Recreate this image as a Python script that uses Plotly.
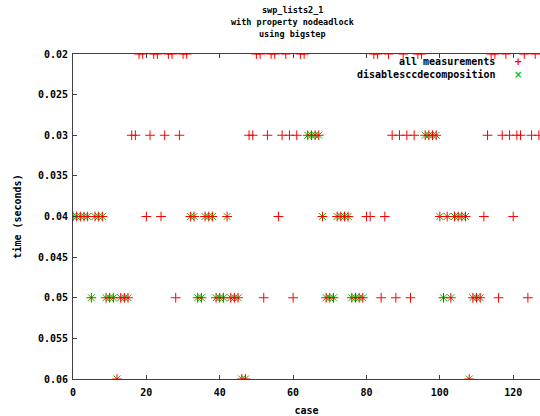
import plotly.graph_objects as go

# ---- data ----
cases = list(range(0, 128))

all_times = (
    [0.04] * 5 + [0.05] + [0.04] * 3 + [0.05] * 3 + [0.06] + [0.05] * 3      # 0-15
    + [0.03, 0.03, 0.02, 0.02, 0.04, 0.03, 0.02, 0.02]                           # 16-23
    + [0.04, 0.03, 0.02, 0.02, 0.05, 0.03, 0.02, 0.02]                           # 24-31
    + [0.04, 0.04, 0.05, 0.05, 0.04, 0.04, 0.04, 0.05, 0.05, 0.05, 0.04]         # 32-42
    + [0.05, 0.05, 0.05, 0.06, 0.06, 0.03, 0.03, 0.02, 0.02, 0.05, 0.03]         # 43-53
    + [0.02, 0.02, 0.04, 0.03, 0.02, 0.03, 0.05, 0.03, 0.02, 0.02]               # 54-63
    + [0.03] * 4 + [0.04] + [0.05] * 3 + [0.04] * 4 + [0.05] * 4                 # 64-79
    + [0.04, 0.04, 0.02, 0.02, 0.05, 0.04, 0.02, 0.03, 0.05, 0.03, 0.02]         # 80-90
    + [0.03, 0.05, 0.03, 0.02, 0.02] + [0.03] * 4                                # 91-99
    + [0.04, 0.05, 0.04, 0.05] + [0.04] * 4 + [0.06] + [0.05] * 3 + [0.04]       # 100-112
    + [0.03, 0.02, 0.02, 0.05, 0.03, 0.02, 0.03, 0.04, 0.03, 0.03, 0.02]         # 113-123
    + [0.05, 0.03, 0.02, 0.03]                                                   # 124-127
)

green_cases = (
    list(range(0, 16)) + list(range(32, 48)) + list(range(64, 80))
    + list(range(96, 112))
)
green_times = [all_times[c] for c in green_cases]

x_ticks = [0, 20, 40, 60, 80, 100, 120]
y_ticks = [0.02, 0.025, 0.03, 0.035, 0.04, 0.045, 0.05, 0.055, 0.06]
y_tick_text = ["0.02", "0.025", "0.03", "0.035", "0.04", "0.045", "0.05", "0.055", "0.06"]

title_lines = ["swp_lists2_1", "with property nodeadlock", "using bigstep"]
series_names = ["all measurements", "disablesccdecomposition"]

RED = "#ff0000"
GREEN = "#00c000"
FONT = dict(family="DejaVu Sans Mono", size=10, color="black", weight="bold")

fig = go.Figure()
fig.add_trace(go.Scatter(
    x=green_cases, y=green_times, mode="markers", name=series_names[1],
    marker=dict(symbol="x-thin", size=7, line=dict(color=GREEN, width=1)),
    showlegend=False,
))
fig.add_trace(go.Scatter(
    x=cases, y=all_times, mode="markers", name=series_names[0],
    marker=dict(symbol="cross-thin", size=7, line=dict(color=RED, width=1)),
    showlegend=False,
))

L, R, T, B = 73, 540, 54, 379
W, H = 540, 416


def px(xp):
    return (xp - L) / (R - L)


def py(yp):
    return (B - yp) / (B - T)


annotations = []
for i, line in enumerate(title_lines):
    annotations.append(dict(
        text=line, xref="paper", yref="paper", x=px(292), y=py(10 + 12 * i),
        xanchor="center", yanchor="middle", showarrow=False,
        font=dict(family="DejaVu Sans Mono", size=8.5, color="black", weight="bold"),
    ))
for i, (name, sym, col) in enumerate(zip(series_names, ["+", "×"], [RED, GREEN])):
    yy = py(62 + 12 * i)
    annotations.append(dict(
        text=name, xref="paper", yref="paper", x=px(497), y=yy,
        xanchor="right", yanchor="middle", showarrow=False, font=FONT,
    ))
    annotations.append(dict(
        text=sym, xref="paper", yref="paper", x=px(518), y=yy,
        xanchor="center", yanchor="middle", showarrow=False,
        font=dict(family="DejaVu Sans", size=10, color=col),
    ))

fig.update_layout(
    width=W, height=H,
    margin=dict(l=L, r=W - R, t=T, b=H - B, pad=0),
    paper_bgcolor="white", plot_bgcolor="white",
    font=FONT,
    showlegend=False,
    annotations=annotations,
    xaxis=dict(
        range=[0, 127.3], tickvals=x_ticks, ticks="inside", ticklen=4,
        tickcolor="#404040", showline=True, linecolor="#404040", linewidth=1,
        mirror="ticks", showgrid=False, zeroline=False,
        ticklabelstandoff=4,
        title=dict(text="case", font=FONT, standoff=10),
        tickfont=FONT,
    ),
    yaxis=dict(
        range=[0.06, 0.02], tickvals=y_ticks, ticktext=y_tick_text,
        ticks="inside", ticklen=4, tickcolor="#404040", showline=True,
        linecolor="#404040", linewidth=1, showgrid=False, zeroline=False,
        ticklabelstandoff=2,
        title=dict(text="time (seconds)", font=FONT, standoff=14),
        tickfont=FONT,
    ),
)

fig.write_html("out.html")
